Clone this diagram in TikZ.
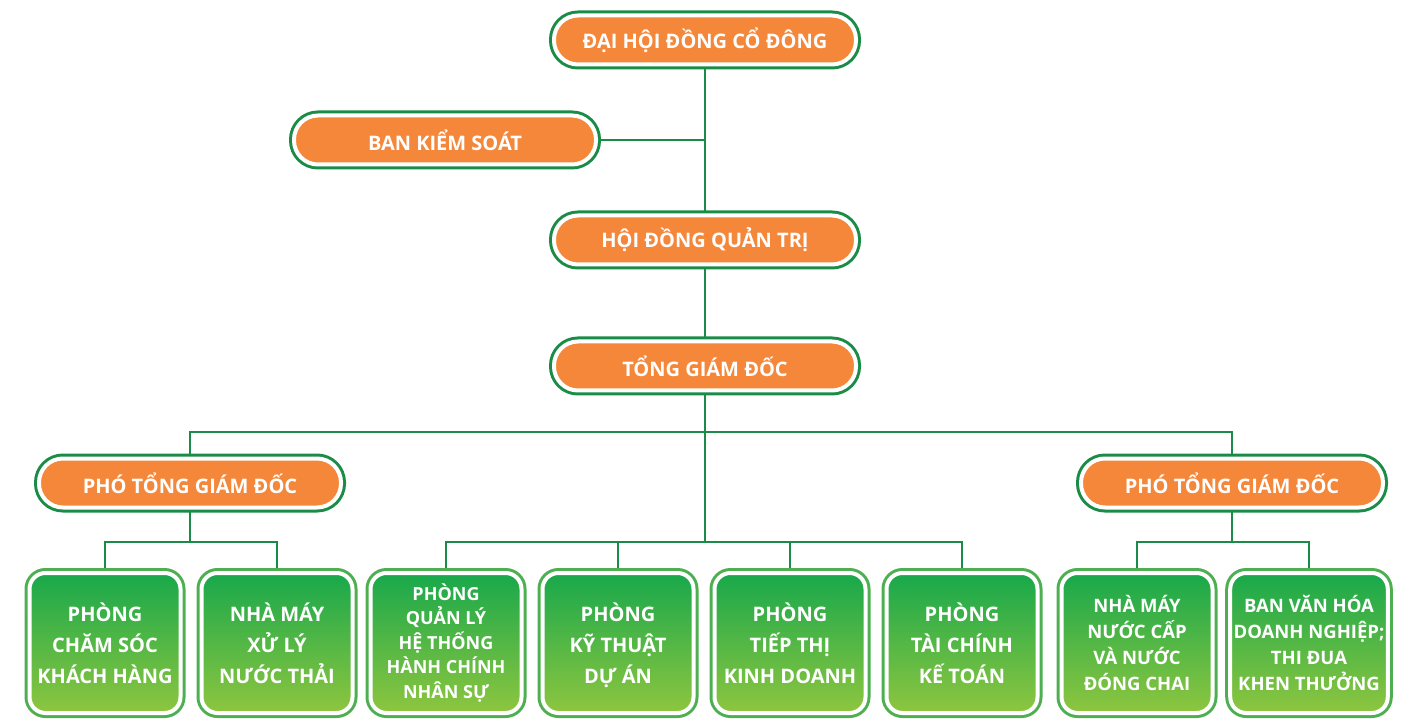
\documentclass[tikz,border=0pt]{standalone}
\usepackage{fontspec}
\setmainfont{Open Sans}
\usetikzlibrary{backgrounds}
\definecolor{cam}{HTML}{F4873A}
\definecolor{xanhdam}{HTML}{1A8C47}
\definecolor{xanhvien}{HTML}{4DAF50}
\definecolor{xanhtren}{HTML}{18A84B}
\definecolor{xanhduoi}{HTML}{8EC63F}
\tikzstyle{hopcam}=[rectangle,rounded corners=24pt,minimum width=302pt,minimum height=49pt,fill=cam,draw=white,line width=4pt,preaction={draw=xanhdam,line width=10pt},text=white,font=\bfseries\fontsize{20}{22}\selectfont]
\tikzstyle{phong}=[rectangle,rounded corners=16pt,minimum width=151pt,minimum height=140pt,top color=xanhtren,bottom color=xanhduoi,draw=white,line width=4pt,preaction={draw=xanhvien,line width=10pt},text=white,align=center,font=\bfseries\fontsize{20}{31}\selectfont]
\tikzstyle{ln}=[draw=xanhdam,line width=2.5pt]

\begin{document}
\begin{tikzpicture}[x=1pt,y=-1pt]
\useasboundingbox (0,0) rectangle (1401,719);
% cap tren
\node[hopcam] (dhd) at (705,40) {ĐẠI HỘI ĐỒNG CỔ ĐÔNG};
\node[hopcam] (bks) at (445,140) {BAN KIỂM SOÁT};
\node[hopcam] (hdqt) at (705,240) {HỘI ĐỒNG QUẢN TRỊ};
\node[hopcam] (tgd) at (705,366) {TỔNG GIÁM ĐỐC};
\node[hopcam] (ptgdl) at (190,483) {PHÓ TỔNG GIÁM ĐỐC};
\node[hopcam] (ptgdr) at (1232,483) {PHÓ TỔNG GIÁM ĐỐC};
% cac phong
\node[phong] (pcs) at (105,643) {PHÒNG\\CHĂM SÓC\\KHÁCH HÀNG};
\node[phong] (nmxl) at (277,643) {NHÀ MÁY\\XỬ LÝ\\NƯỚC THẢI};
\node[phong,font=\bfseries\fontsize{18}{24.5}\selectfont] (pql) at (446,643) {PHÒNG\\QUẢN LÝ\\HỆ THỐNG\\HÀNH CHÍNH\\NHÂN SỰ};
\node[phong] (pkt) at (618,643) {PHÒNG\\KỸ THUẬT\\\smash{DỰ ÁN}};
\node[phong] (ptt) at (790,643) {PHÒNG\\TIẾP THỊ\\KINH DOANH};
\node[phong] (ptc) at (962,643) {PHÒNG\\TÀI CHÍNH\\KẾ TOÁN};
\node[phong,font=\bfseries\fontsize{18.5}{26}\selectfont] (nmnc) at (1137,643) {NHÀ MÁY\\NƯỚC CẤP\\VÀ NƯỚC\\ĐÓNG CHAI};
\node[phong,font=\bfseries\fontsize{18.5}{26}\selectfont] (bvh) at (1309,643) {BAN VĂN HÓA\\DOANH NGHIỆP;\\THI ĐUA\\KHEN THƯỞNG};
% duong noi
\coordinate (j1) at (705,432);
\coordinate (j2) at (705,542);
\coordinate (j3) at (190,542);
\coordinate (j4) at (1232,542);
\begin{pgfonlayer}{background}
\draw[ln] (dhd) -- (hdqt);
\draw[ln] (bks.east) -- (bks.east -| dhd.south);
\draw[ln] (hdqt) -- (tgd);
\draw[ln] (tgd) -- (j2);
\draw[ln] (ptgdl) |- (j1) -| (ptgdr);
\draw[ln] (pql) |- (j2) -| (ptc);
\draw[ln] (pkt) -- (pkt |- j2);
\draw[ln] (ptt) -- (ptt |- j2);
\draw[ln] (ptgdl) -- (j3);
\draw[ln] (pcs) |- (j3) -| (nmxl);
\draw[ln] (ptgdr) -- (j4);
\draw[ln] (nmnc) |- (j4) -| (bvh);
\end{pgfonlayer}
\end{tikzpicture}
\end{document}
